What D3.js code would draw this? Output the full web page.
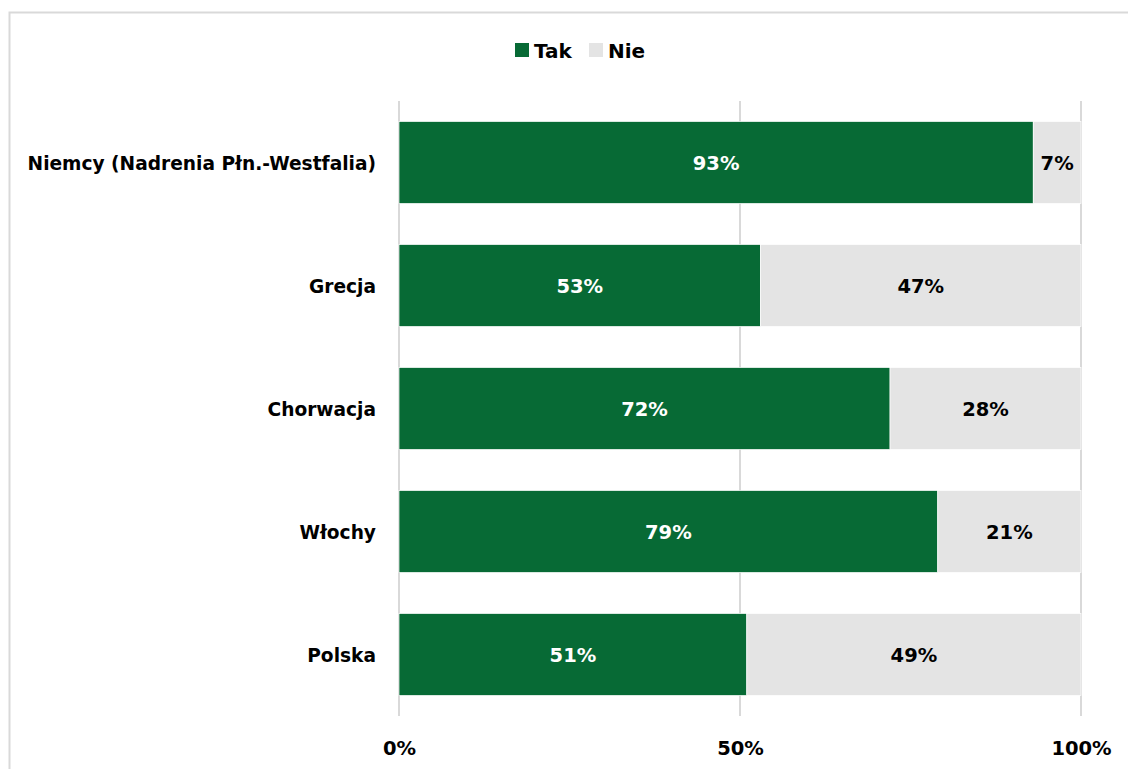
<!DOCTYPE html>
<html>
<head>
<meta charset="utf-8">
<script src="https://cdn.jsdelivr.net/npm/d3@7"></script>
<style>
  html, body { margin: 0; padding: 0; background: #fff; }
  svg { display: block; font-family: "DejaVu Sans", sans-serif; font-weight: 700; }
</style>
</head>
<body>
<svg id="chart" width="1128" height="769"></svg>
<script>
// Share of answers per region
const categories = ["Niemcy (Nadrenia Płn.-Westfalia)", "Grecja", "Chorwacja", "Włochy", "Polska"];
const takValues = [93, 53, 72, 79, 51];
const nieValues = [7, 47, 28, 21, 49];
const seriesNames = ["Tak", "Nie"];
const seriesColors = ["#076A35", "#E4E4E4"];
const labelColors = ["#FFFFFF", "#000000"];
const tickValues = [0, 50, 100];

const svg = d3.select("#chart");
const W = 1128, H = 769;
const FS = 19.5;       // numbers and legend
const FS_CAT = 18.6;   // category labels

// outer frame
svg.append("rect")
  .attr("x", 9.5).attr("y", 12.5)
  .attr("width", W + 20).attr("height", H + 20)
  .attr("fill", "none").attr("stroke", "#D9D9D9").attr("stroke-width", 2);

const x = d3.scaleLinear().domain([0, 100]).range([399, 1081]);
const y = d3.scaleBand().domain(categories).range([101, 716]).paddingInner(1 / 3).paddingOuter(1 / 6);

// gridlines
svg.append("g").selectAll("line").data(tickValues).join("line")
  .attr("x1", d => x(d)).attr("x2", d => x(d))
  .attr("y1", 101).attr("y2", 716)
  .attr("stroke", "#D9D9D9").attr("stroke-width", 2);

// stacked rows
const rows = categories.map((c, i) => ({ cat: c, vals: [takValues[i], nieValues[i]] }));
const segs = [];
rows.forEach(r => {
  let acc = 0;
  r.vals.forEach((v, k) => {
    segs.push({ cat: r.cat, k, x0: acc, x1: acc + v, v });
    acc += v;
  });
});

svg.append("g").selectAll("rect").data(segs).join("rect")
  .attr("x", d => x(d.x0))
  .attr("y", d => y(d.cat))
  .attr("width", d => x(d.x1) - x(d.x0))
  .attr("height", y.bandwidth())
  .attr("fill", d => seriesColors[d.k])
  .attr("stroke", "#FFFFFF").attr("stroke-width", 0.7);

svg.append("g").selectAll("text").data(segs).join("text")
  .attr("x", d => (x(d.x0) + x(d.x1)) / 2)
  .attr("y", d => y(d.cat) + y.bandwidth() / 2 + 1)
  .attr("text-anchor", "middle").attr("dominant-baseline", "central")
  .attr("font-size", FS)
  .attr("fill", d => labelColors[d.k])
  .text(d => d.v + "%");

// category axis labels
svg.append("g").selectAll("text").data(categories).join("text")
  .attr("x", 376)
  .attr("y", d => y(d) + y.bandwidth() / 2 + 1)
  .attr("text-anchor", "end").attr("dominant-baseline", "central")
  .attr("font-size", FS_CAT).attr("fill", "#000")
  .text(d => d);

// value axis
const xAxis = d3.axisBottom(x).tickValues(tickValues).tickSize(0).tickFormat(d => d + "%");
const ax = svg.append("g").attr("transform", "translate(0,738)").call(xAxis);
ax.select(".domain").remove();
ax.selectAll("text").attr("font-size", FS).attr("fill", "#000")
  .attr("font-family", "\"DejaVu Sans\", sans-serif").attr("font-weight", 700);

// legend
const legend = svg.append("g");
const legendX = [515, 589];
seriesNames.forEach((n, i) => {
  legend.append("rect").attr("x", legendX[i]).attr("y", 43).attr("width", 14).attr("height", 14)
    .attr("fill", seriesColors[i]);
  legend.append("text").attr("x", legendX[i] + 19).attr("y", 51)
    .attr("dominant-baseline", "central").attr("font-size", 20).attr("fill", "#000")
    .text(n);
});
</script>
</body>
</html>
